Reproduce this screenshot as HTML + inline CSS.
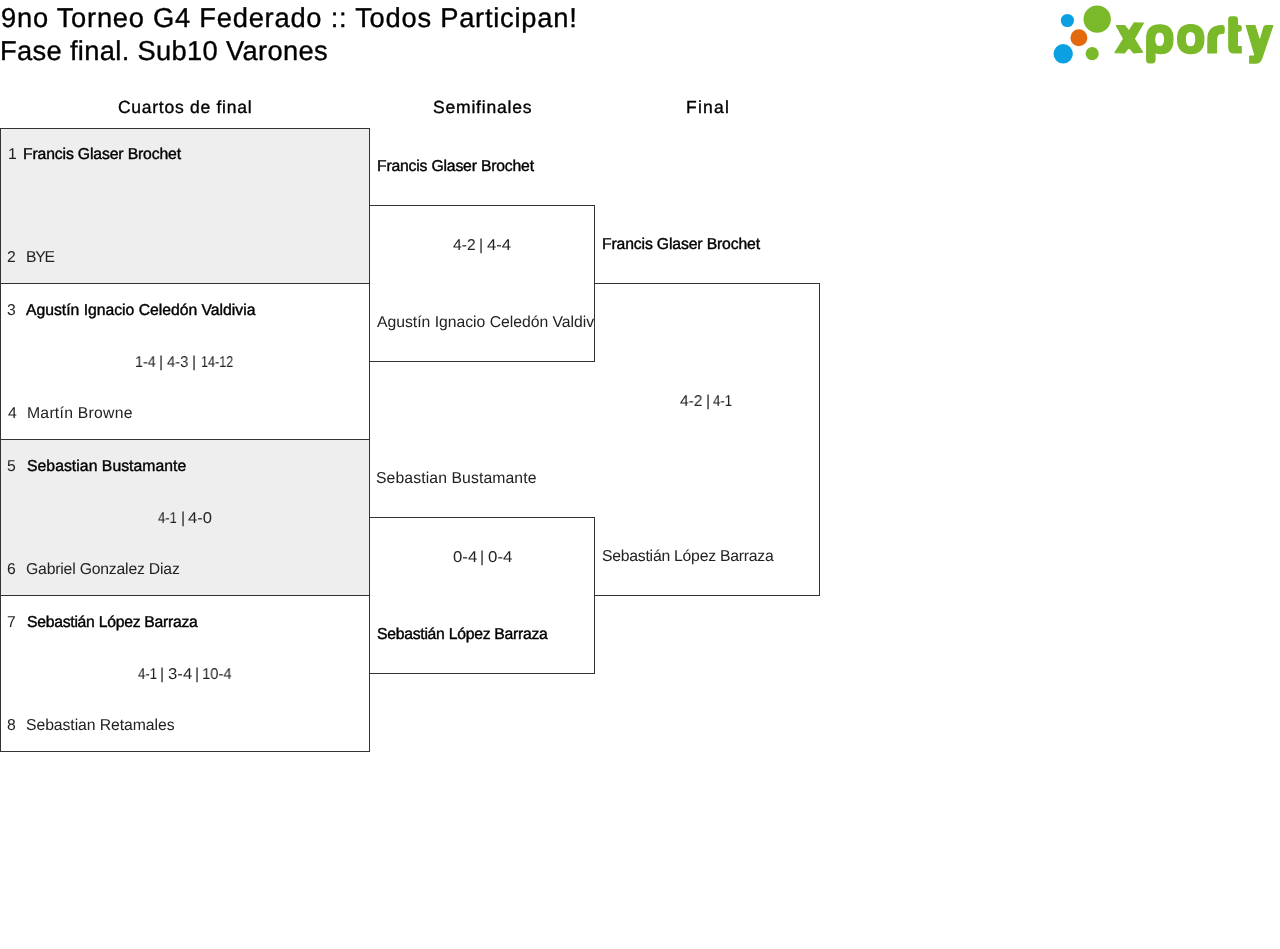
<!DOCTYPE html>
<html><head><meta charset="utf-8"><style>
html,body{margin:0;padding:0;background:#fff;width:1280px;height:949px;overflow:hidden;position:relative}
.t{position:absolute;white-space:nowrap;will-change:transform;text-rendering:geometricPrecision;font-family:"Liberation Sans",sans-serif;color:#000}
.l{position:absolute;background:#333}
</style></head><body>
<div style="position:absolute;left:1px;top:129px;width:368px;height:154px;background:#eeeeee"></div>
<div style="position:absolute;left:1px;top:440px;width:368px;height:155px;background:#eeeeee"></div>
<div class="l" style="left:0px;top:128px;width:370px;height:1px"></div>
<div class="l" style="left:0px;top:283px;width:370px;height:1px"></div>
<div class="l" style="left:0px;top:439px;width:370px;height:1px"></div>
<div class="l" style="left:0px;top:595px;width:370px;height:1px"></div>
<div class="l" style="left:0px;top:751px;width:370px;height:1px"></div>
<div class="l" style="left:0px;top:128px;width:1px;height:624px"></div>
<div class="l" style="left:369px;top:128px;width:1px;height:624px"></div>
<div class="l" style="left:369px;top:205px;width:226px;height:1px"></div>
<div class="l" style="left:369px;top:361px;width:226px;height:1px"></div>
<div class="l" style="left:594px;top:205px;width:1px;height:157px"></div>
<div class="l" style="left:369px;top:517px;width:226px;height:1px"></div>
<div class="l" style="left:369px;top:673px;width:226px;height:1px"></div>
<div class="l" style="left:594px;top:517px;width:1px;height:157px"></div>
<div class="l" style="left:594px;top:283px;width:226px;height:1px"></div>
<div class="l" style="left:594px;top:595px;width:226px;height:1px"></div>
<div class="l" style="left:819px;top:283px;width:1px;height:313px"></div>
<div class="t" id="t1" style="left:1.25px;top:1.04px;font-size:27.3px;line-height:33px;-webkit-text-stroke:0.35px #000;letter-spacing:0.762px;">9no Torneo G4 Federado :: Todos Participan!</div>
<div class="t" id="t2" style="left:0.25px;top:34.04px;font-size:27.3px;line-height:33px;-webkit-text-stroke:0.35px #000;letter-spacing:0.333px;">Fase final. Sub10 Varones</div>
<div class="t" id="h1" style="left:118.00px;top:96.93px;font-size:17.5px;line-height:21px;-webkit-text-stroke:0.35px #000;letter-spacing:0.733px;">Cuartos de final</div>
<div class="t" id="h2" style="left:433.00px;top:96.93px;font-size:17.5px;line-height:21px;-webkit-text-stroke:0.35px #000;letter-spacing:0.800px;">Semifinales</div>
<div class="t" id="h3" style="left:686.00px;top:96.93px;font-size:17.5px;line-height:21px;-webkit-text-stroke:0.35px #000;letter-spacing:1.250px;">Final</div>
<div class="t" id="n1" style="left:7.50px;top:145.04px;font-size:15.75px;line-height:19px;color:#222;">1</div>
<div class="t" id="q1a" style="left:22.75px;top:145.04px;font-size:15.75px;line-height:19px;-webkit-text-stroke:0.4px #000;letter-spacing:-0.143px;">Francis Glaser Brochet</div>
<div class="t" id="n2" style="left:7.00px;top:248.04px;font-size:15.75px;line-height:19px;color:#222;">2</div>
<div class="t" id="q1b" style="left:25.50px;top:248.04px;font-size:15.75px;line-height:19px;color:#222;letter-spacing:-1.300px;">BYE</div>
<div class="t" id="n3" style="left:7.00px;top:301.04px;font-size:15.75px;line-height:19px;color:#222;">3</div>
<div class="t" id="q2a" style="left:26.00px;top:301.04px;font-size:15.75px;line-height:19px;-webkit-text-stroke:0.4px #000;letter-spacing:-0.019px;">Agustín Ignacio Celedón Valdivia</div>
<div class="t" id="s2_0" style="left:134.60px;top:353.04px;font-size:15.75px;line-height:19px;color:#222;transform:scaleX(0.9128);transform-origin:0 0;">1-4</div>
<div class="t" id="s2_1" style="left:158.80px;top:353.04px;font-size:15.75px;line-height:19px;color:#222;">|</div>
<div class="t" id="s2_2" style="left:166.70px;top:353.04px;font-size:15.75px;line-height:19px;color:#222;transform:scaleX(0.9365);transform-origin:0 0;">4-3</div>
<div class="t" id="s2_3" style="left:191.90px;top:353.04px;font-size:15.75px;line-height:19px;color:#222;">|</div>
<div class="t" id="s2_4" style="left:200.60px;top:353.04px;font-size:15.75px;line-height:19px;color:#222;transform:scaleX(0.8003);transform-origin:0 0;">14-12</div>
<div class="t" id="n4" style="left:8.00px;top:404.04px;font-size:15.75px;line-height:19px;color:#222;">4</div>
<div class="t" id="q2b" style="left:26.50px;top:404.04px;font-size:15.75px;line-height:19px;color:#222;letter-spacing:0.250px;">Martín Browne</div>
<div class="t" id="n5" style="left:7.00px;top:457.04px;font-size:15.75px;line-height:19px;color:#222;">5</div>
<div class="t" id="q3a" style="left:26.50px;top:457.04px;font-size:15.75px;line-height:19px;-webkit-text-stroke:0.4px #000;letter-spacing:0.042px;">Sebastian Bustamante</div>
<div class="t" id="s3_0" style="left:157.70px;top:509.04px;font-size:15.75px;line-height:19px;color:#222;transform:scaleX(0.8253);transform-origin:0 0;">4-1</div>
<div class="t" id="s3_1" style="left:181.00px;top:509.04px;font-size:15.75px;line-height:19px;color:#222;">|</div>
<div class="t" id="s3_2" style="left:188.40px;top:509.04px;font-size:15.75px;line-height:19px;color:#222;transform:scaleX(1.0552);transform-origin:0 0;">4-0</div>
<div class="t" id="n6" style="left:7.00px;top:560.04px;font-size:15.75px;line-height:19px;color:#222;">6</div>
<div class="t" id="q3b" style="left:26.00px;top:560.04px;font-size:15.75px;line-height:19px;color:#222;letter-spacing:-0.190px;">Gabriel Gonzalez Diaz</div>
<div class="t" id="n7" style="left:7.00px;top:613.04px;font-size:15.75px;line-height:19px;color:#222;">7</div>
<div class="t" id="q4a" style="left:26.50px;top:613.04px;font-size:15.75px;line-height:19px;-webkit-text-stroke:0.4px #000;letter-spacing:-0.273px;">Sebastián López Barraza</div>
<div class="t" id="s4_0" style="left:137.70px;top:665.04px;font-size:15.75px;line-height:19px;color:#222;transform:scaleX(0.8361);transform-origin:0 0;">4-1</div>
<div class="t" id="s4_1" style="left:160.40px;top:665.04px;font-size:15.75px;line-height:19px;color:#222;">|</div>
<div class="t" id="s4_2" style="left:168.10px;top:665.04px;font-size:15.75px;line-height:19px;color:#222;transform:scaleX(1.0625);transform-origin:0 0;">3-4</div>
<div class="t" id="s4_3" style="left:195.10px;top:665.04px;font-size:15.75px;line-height:19px;color:#222;">|</div>
<div class="t" id="s4_4" style="left:201.80px;top:665.04px;font-size:15.75px;line-height:19px;color:#222;transform:scaleX(0.9404);transform-origin:0 0;">10-4</div>
<div class="t" id="n8" style="left:7.00px;top:716.04px;font-size:15.75px;line-height:19px;color:#222;">8</div>
<div class="t" id="q4b" style="left:26.00px;top:716.04px;font-size:15.75px;line-height:19px;color:#222;letter-spacing:-0.067px;">Sebastian Retamales</div>
<div class="t" id="sf1a" style="left:377.00px;top:157.04px;font-size:15.75px;line-height:19px;-webkit-text-stroke:0.4px #000;letter-spacing:-0.190px;">Francis Glaser Brochet</div>
<div class="t" id="sf1s_0" style="left:452.70px;top:236.04px;font-size:15.75px;line-height:19px;color:#222;transform:scaleX(0.9916);transform-origin:0 0;">4-2</div>
<div class="t" id="sf1s_1" style="left:478.70px;top:236.04px;font-size:15.75px;line-height:19px;color:#222;">|</div>
<div class="t" id="sf1s_2" style="left:487.10px;top:236.04px;font-size:15.75px;line-height:19px;color:#222;transform:scaleX(1.0594);transform-origin:0 0;">4-4</div>
<div class="t" id="sf1b" style="left:377.00px;top:313.04px;font-size:15.75px;line-height:19px;color:#222;letter-spacing:-0.019px;width:217.00px;overflow:hidden;">Agustín Ignacio Celedón Valdivia</div>
<div class="t" id="sf2a" style="left:376.00px;top:469.04px;font-size:15.75px;line-height:19px;color:#222;letter-spacing:0.105px;">Sebastian Bustamante</div>
<div class="t" id="sf2s_0" style="left:452.70px;top:548.04px;font-size:15.75px;line-height:19px;color:#222;transform:scaleX(1.0638);transform-origin:0 0;">0-4</div>
<div class="t" id="sf2s_1" style="left:479.70px;top:548.04px;font-size:15.75px;line-height:19px;color:#222;">|</div>
<div class="t" id="sf2s_2" style="left:488.30px;top:548.04px;font-size:15.75px;line-height:19px;color:#222;transform:scaleX(1.0714);transform-origin:0 0;">0-4</div>
<div class="t" id="sf2b" style="left:377.00px;top:625.04px;font-size:15.75px;line-height:19px;-webkit-text-stroke:0.4px #000;letter-spacing:-0.273px;">Sebastián López Barraza</div>
<div class="t" id="fa" style="left:601.50px;top:235.04px;font-size:15.75px;line-height:19px;-webkit-text-stroke:0.4px #000;letter-spacing:-0.143px;">Francis Glaser Brochet</div>
<div class="t" id="fs_0" style="left:679.70px;top:392.04px;font-size:15.75px;line-height:19px;color:#222;transform:scaleX(0.9819);transform-origin:0 0;">4-2</div>
<div class="t" id="fs_1" style="left:705.70px;top:392.04px;font-size:15.75px;line-height:19px;color:#222;">|</div>
<div class="t" id="fs_2" style="left:713.40px;top:392.04px;font-size:15.75px;line-height:19px;color:#222;transform:scaleX(0.8361);transform-origin:0 0;">4-1</div>
<div class="t" id="fb" style="left:601.50px;top:547.04px;font-size:15.75px;line-height:19px;color:#222;letter-spacing:-0.236px;">Sebastián López Barraza</div>
<svg style="position:absolute;left:1040px;top:0" width="240" height="80" viewBox="1040 0 240 80">
<g fill="#0aa0e2"><circle cx="1067.4" cy="20.5" r="6.6"/><circle cx="1063.2" cy="53.8" r="9.7"/></g>
<g fill="#7ab929"><circle cx="1097.2" cy="19.1" r="13.7"/><circle cx="1092.2" cy="53.7" r="6.6"/></g>
<circle cx="1078.9" cy="37.7" r="8.5" fill="#e36a0c"/>
<g fill="#7ab929" stroke="#7ab929" stroke-width="1.2" stroke-linejoin="round">
<path d="M1116.4,25.6 L1124.7,25.6 L1129,31 L1134.2,22.9 L1143.3,23.2 L1134.3,38.8 L1142.6,52.2 L1133.6,53 L1129,47.2 L1124.4,53 L1115,52.6 L1123.6,38.8 Z"/>
<path fill-rule="evenodd" d="M1146.7,38 Q1146.7,24.8 1160,24.8 Q1173,24.8 1173,39.2 Q1173,53.7 1160.5,53.7 Q1157.5,53.7 1155,52.2 L1155,59.8 Q1155,62.8 1152,62.8 L1149.3,62.8 Q1146.7,62.8 1146.7,60 Z M1159.65,31.9 Q1154.6,31.9 1154.6,39.3 Q1154.6,46.7 1159.65,46.7 Q1164.7,46.7 1164.7,39.3 Q1164.7,31.9 1159.65,31.9 Z"/>
<path fill-rule="evenodd" d="M1190.75,24.5 Q1177.6,24.5 1177.6,39.05 Q1177.6,53.6 1190.75,53.6 Q1203.9,53.6 1203.9,39.05 Q1203.9,24.5 1190.75,24.5 Z M1190.55,31.5 Q1185.2,31.5 1185.2,39.2 Q1185.2,46.9 1190.55,46.9 Q1195.9,46.9 1195.9,39.2 Q1195.9,31.5 1190.55,31.5 Z"/>
<path d="M1207.9,53 L1207.9,39 Q1207.9,25.5 1222,25.5 Q1224.1,25.5 1224.1,27.5 L1224.1,31.4 Q1224.1,33.4 1222,33.4 L1221,33.4 Q1216.5,33.4 1216.5,40 L1216.5,53 Z"/>
<path d="M1228.8,19 Q1228.8,16.9 1231,16.9 L1235,16.9 Q1237.4,16.9 1237.4,20 L1237.4,25.5 L1239.5,25.5 Q1241.2,25.5 1241.2,27.5 L1241.2,29 Q1241.2,31.2 1239,31.2 L1237.4,31.2 L1237.4,46.6 L1241.2,46.6 L1241.2,53 L1234,53 Q1228.8,53 1228.8,47 Z"/>
<path d="M1246.2,25.5 L1254.9,25.5 L1259.8,41.3 L1264,27 Q1264.6,25.5 1266.5,25.5 L1272.8,25.5 L1261.6,58.8 Q1260,63.1 1256,63.1 L1249.7,63.1 L1249.7,56 L1253.5,56 Q1255,56 1254.6,54 Z"/>
</g>
</svg>
</body></html>
